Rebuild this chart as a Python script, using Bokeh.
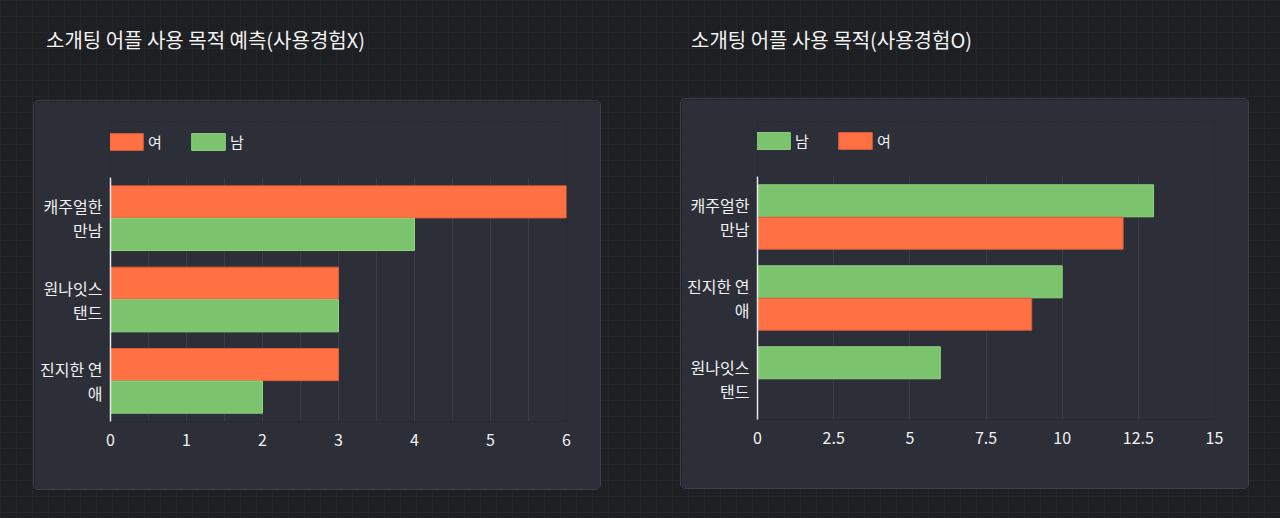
from bokeh.plotting import figure
from bokeh.models import (Range1d, Legend, LegendItem, SingleIntervalTicker, FixedTicker,
                          ColumnDataSource, Div, BoxAnnotation)
from bokeh.layouts import row, column
from bokeh.embed import file_html
from bokeh.resources import INLINE

# ---- data ----
left_title = "소개팅 어플 사용 목적 예측(사용경험X)"
left_cats = ["캐주얼한\n만남", "원나잇스\n탠드", "진지한 연\n애"]
left_female = [6, 3, 3]
left_male = [4, 3, 2]

right_title = "소개팅 어플 사용 목적(사용경험O)"
right_cats = ["캐주얼한\n만남", "진지한 연\n애", "원나잇스\n탠드"]
right_male = [13, 10, 6]
right_female = [12, 9, 0]

ORANGE = "#ff7043"
ORANGE_LINE = "#d95f3a"
GREEN = "#7cc36e"
GREEN_LINE = "#8fd47f"
CARD = "#2c2f38"
GRID = "#3a3d46"
TEXT = "#f2f2f2"
FONT = "Noto Sans CJK KR"


def make_chart(cats, s1_name, s1_vals, s1_col, s1_line, s2_name, s2_vals, s2_col, s2_line,
               xmax, interval, minor, width, height, mb, data_px, legend_y):
    n = len(cats)
    pos = [n - 1 - i for i in range(n)]          # top category highest
    src = ColumnDataSource(dict(pos=pos, a=s1_vals, b=s2_vals,
                                pa=[v + 0.2 for v in pos], pb=[v - 0.2 for v in pos]))
    frame_h = height - mb[2] - mb[3]
    unit = data_px / n
    y_top = (n - 0.5) + (frame_h - data_px) / unit
    p = figure(width=width, height=height,
               y_range=Range1d(-0.5, y_top),
               x_range=Range1d(0, xmax),
               output_backend="svg", toolbar_location=None,
               min_border_left=mb[0], min_border_right=mb[1],
               min_border_top=mb[2], min_border_bottom=mb[3],
               background_fill_color=CARD, border_fill_color=CARD,
               outline_line_color=None)
    r1 = p.hbar(y="pa", right="a", left=0, height=0.395,
                source=src, fill_color=s1_col, line_color=s1_line, line_width=1)
    r2 = p.hbar(y="pb", right="b", left=0, height=0.395,
                source=src, fill_color=s2_col, line_color=s2_line, line_width=1)

    p.xaxis.ticker = SingleIntervalTicker(interval=interval, num_minor_ticks=minor)
    p.xaxis.axis_line_color = None
    p.xaxis.major_tick_line_color = None
    p.xaxis.minor_tick_line_color = None
    p.xaxis.major_label_text_color = TEXT
    p.xaxis.major_label_text_font = FONT
    p.xaxis.major_label_text_font_size = "16px"
    p.xaxis.major_label_standoff = 6

    p.yaxis.ticker = FixedTicker(ticks=pos)
    p.yaxis.major_label_overrides = {v: c for v, c in zip(pos, cats)}
    p.yaxis.bounds = (-0.5, n - 0.5)
    p.yaxis.axis_line_color = "#e8e8e8"
    p.yaxis.axis_line_width = 1.5
    p.yaxis.major_tick_line_color = None
    p.yaxis.minor_tick_line_color = None
    p.yaxis.major_label_text_color = TEXT
    p.yaxis.major_label_text_font = FONT
    p.yaxis.major_label_text_font_size = "16px"
    p.yaxis.major_label_text_line_height = 1.0
    p.yaxis.major_label_standoff = 2

    p.ygrid.grid_line_color = None
    p.xgrid.grid_line_color = GRID
    if minor > 1:
        p.xgrid.minor_grid_line_color = GRID

    # keep the legend strip above the data area free of grid lines
    p.add_layout(BoxAnnotation(bottom=n - 0.5, fill_color=CARD, fill_alpha=1,
                               line_color=None))

    legend = Legend(items=[LegendItem(label=s1_name, renderers=[r1]),
                           LegendItem(label=s2_name, renderers=[r2])],
                    orientation="horizontal", location=(-5, legend_y),
                    glyph_width=42, glyph_height=21, label_height=21,
                    label_standoff=1, spacing=19, padding=0, margin=0,
                    border_line_color=None, background_fill_alpha=0,
                    label_text_color=TEXT, label_text_font=FONT,
                    label_text_font_size="15px")
    p.add_layout(legend)
    p.styles = {"border-radius": "5px", "border": "1px solid #3c3f48", "overflow": "hidden"}
    return p


left = make_chart(left_cats, "여", left_female, ORANGE, ORANGE_LINE,
                  "남", left_male, GREEN, GREEN_LINE,
                  6, 1, 2, 568, 390, (76, 36, 20, 70), 244, 269)
right = make_chart(right_cats, "남", right_male, GREEN, GREEN_LINE,
                   "여", right_female, ORANGE, ORANGE_LINE,
                   15, 2.5, 0, 569, 391, (76, 36, 22, 71), 243, 268)
left.margin = (0, 0, 0, 33)
right.margin = (0, 0, 0, 79)

title_style = {"color": TEXT, "font-family": FONT, "font-size": "20px"}
lt = Div(text=left_title, width=555, height=74, margin=(26, 0, 0, 46), styles=title_style)
rt = Div(text=right_title, width=500, height=72, margin=(26, 0, 0, 90), styles=title_style)

layout = row(column(lt, left), column(rt, right))

html = file_html(layout, INLINE)
css = ("<style>body{background-color:#1e1f23 !important;"
       "background-image:linear-gradient(#24262b 1px, transparent 1px),"
       "linear-gradient(90deg, #24262b 1px, transparent 1px) !important;"
       "background-size:16px 16px !important;}</style>")
html = html.replace("</head>", css + "</head>", 1)
open("out.html", "w").write(html)
